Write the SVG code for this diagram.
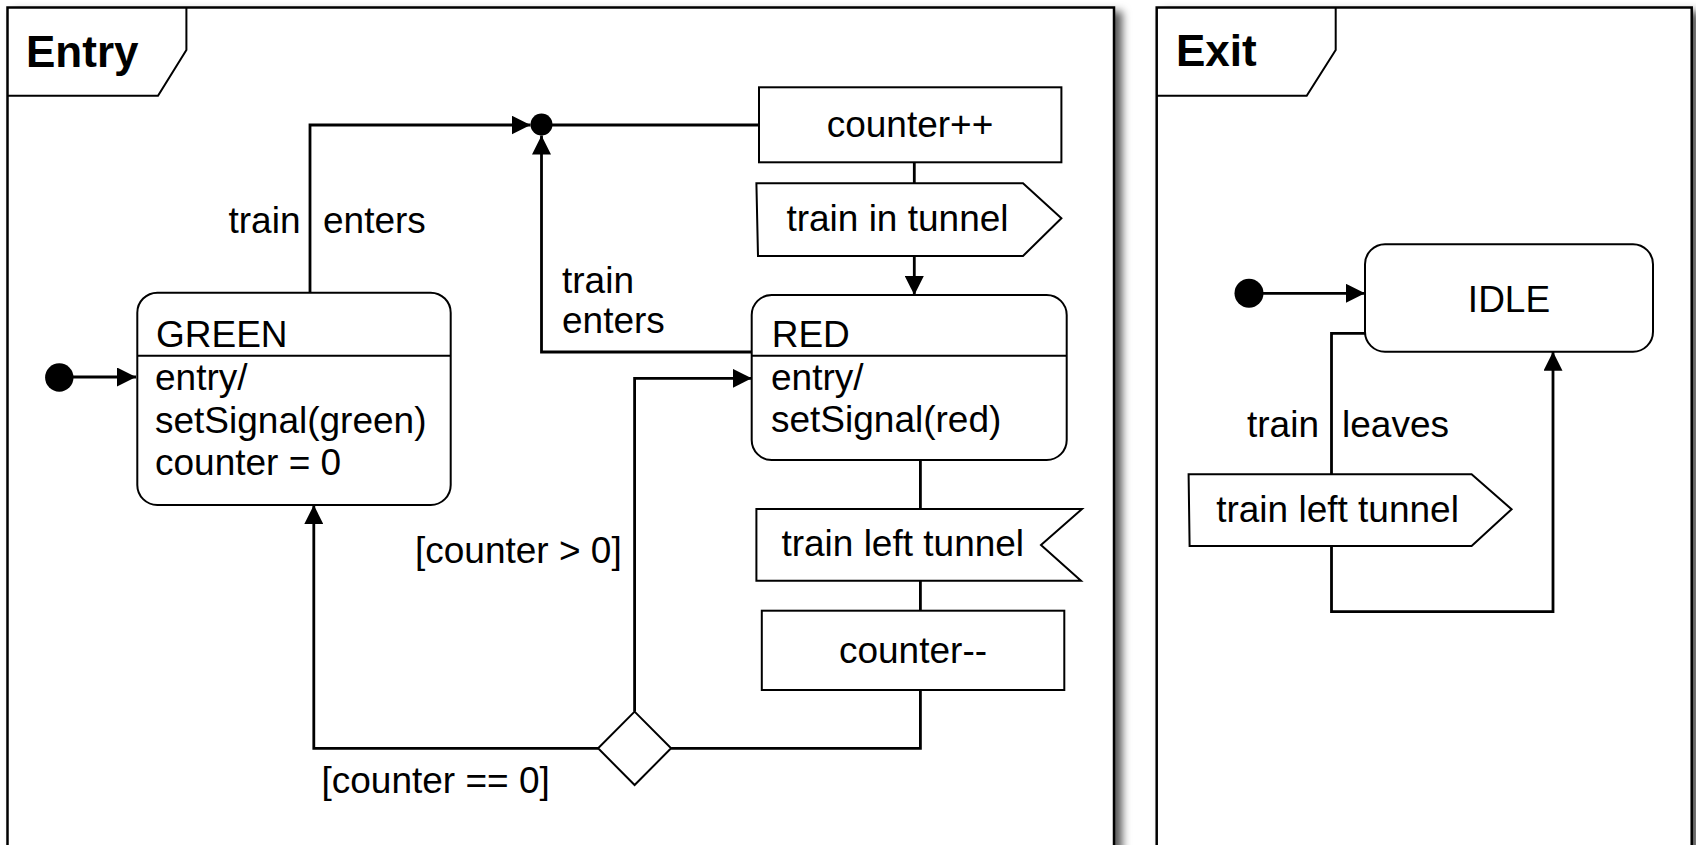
<svg xmlns="http://www.w3.org/2000/svg" width="1696" height="845" viewBox="0 0 1696 845">
  <defs>
    <filter id="frameShadow" x="-5%" y="-5%" width="115%" height="115%">
      <feDropShadow dx="7" dy="5" stdDeviation="4.5" flood-color="#000" flood-opacity="0.65"/>
    </filter>
    <marker id="arrow" markerUnits="userSpaceOnUse" viewBox="0 0 19 19" refX="19" refY="9.5" markerWidth="19" markerHeight="19" orient="auto">
      <path d="M0,0 L19,9.5 L0,19 Z" fill="#000"/>
    </marker>
  </defs>
  <style>
    .frame { fill: #fff; stroke: #000; stroke-width: 2.5; }
    .tab { fill: none; stroke: #000; stroke-width: 2; }
    .title { font-family: "Liberation Sans", Arial, sans-serif; font-weight: bold; font-size: 44px; fill: #000; }
    .box { fill: #fff; stroke: #000; stroke-width: 2; }
    .sep { stroke: #000; stroke-width: 2; }
    .dot { fill: #000; }
    .lbl { font-family: "Liberation Sans", Arial, sans-serif; font-size: 37px; fill: #000; }
    .mid { text-anchor: middle; }
    .end { text-anchor: end; }
    .edge { fill: none; stroke: #000; stroke-width: 2.8; }
  </style>
  <rect width="1696" height="845" fill="#fff"/>

  <!-- Entry region -->
  <g id="frame-entry">
    <rect class="frame" x="7.5" y="7.5" width="1106.5" height="870" filter="url(#frameShadow)"/>
    <path class="tab" d="M7.5,95.7 H158 L186.4,50 V7.5"/>
    <text class="title" x="26" y="66.5">Entry</text>
  </g>

  <!-- Exit region -->
  <g id="frame-exit">
    <rect class="frame" x="1156.7" y="7.5" width="535" height="870" filter="url(#frameShadow)"/>
    <path class="tab" d="M1156.7,95.7 H1306.7 L1335.7,50 V7.5"/>
    <text class="title" x="1176" y="65.7">Exit</text>
  </g>

  <!-- transitions -->
  <g id="connectors">
    <!-- Entry: initial to GREEN -->
    <line class="edge" x1="70" y1="377" x2="136" y2="377" marker-end="url(#arrow)"/>
    <!-- GREEN to junction -->
    <path class="edge" d="M310,292.7 V125 H530.5" marker-end="url(#arrow)"/>
    <!-- RED to junction -->
    <path class="edge" d="M751.7,352 H541.5 V135.5" marker-end="url(#arrow)"/>
    <!-- junction to increment action -->
    <line class="edge" x1="541.5" y1="125" x2="759" y2="125"/>
    <!-- increment action to signal -->
    <line class="edge" x1="914.3" y1="162.3" x2="914.3" y2="183.3"/>
    <!-- signal to RED -->
    <line class="edge" x1="914.3" y1="256" x2="914.3" y2="295" marker-end="url(#arrow)"/>
    <!-- RED, accept event, decrement action, choice -->
    <line class="edge" x1="920.4" y1="460" x2="920.4" y2="509"/>
    <line class="edge" x1="920.4" y1="580.7" x2="920.4" y2="610.7"/>
    <path class="edge" d="M920.4,690 V748.3 H671.1"/>
    <!-- choice to RED when counter is positive -->
    <path class="edge" d="M634.6,711.6 V378.3 H751.7" marker-end="url(#arrow)"/>
    <!-- choice to GREEN when counter is zero -->
    <path class="edge" d="M598.1,748.3 H313.8 V505" marker-end="url(#arrow)"/>

    <!-- Exit: initial to IDLE -->
    <line class="edge" x1="1262" y1="293.3" x2="1365" y2="293.3" marker-end="url(#arrow)"/>
    <!-- IDLE self loop through the signal -->
    <path class="edge" d="M1365,333.3 H1331.5 V474.3"/>
    <path class="edge" d="M1331.5,546 V611.7 H1553 V351.7" marker-end="url(#arrow)"/>

    <!-- transition labels -->
    <text class="lbl end" x="300.5" y="233.3">train</text>
    <text class="lbl" x="323" y="233.3">enters</text>
    <text class="lbl" x="562" y="293.3">train</text>
    <text class="lbl" x="562" y="333.3">enters</text>
    <text class="lbl" x="415" y="563.3">[counter &gt; 0]</text>
    <text class="lbl" x="321.5" y="793.3">[counter == 0]</text>
    <text class="lbl end" x="1319" y="436.7">train</text>
    <text class="lbl" x="1342" y="436.7">leaves</text>
  </g>

  <!-- Entry nodes -->
  <g id="initial-entry">
    <circle class="dot" cx="59.3" cy="377.5" r="14.2"/>
  </g>
  <g id="junction">
    <circle class="dot" cx="541.5" cy="124.5" r="11"/>
  </g>
  <g id="state-green">
    <rect class="box" x="137.3" y="292.7" width="313.4" height="212.3" rx="20" ry="20"/>
    <line class="sep" x1="137.3" y1="355.7" x2="450.7" y2="355.7"/>
    <text class="lbl" x="156" y="347.3">GREEN</text>
    <text class="lbl" x="155" y="390">entry/</text>
    <text class="lbl" x="155" y="432.7">setSignal(green)</text>
    <text class="lbl" x="155" y="475">counter = 0</text>
  </g>
  <g id="action-increment">
    <rect class="box" x="759" y="87.3" width="302.4" height="75"/>
    <text class="lbl mid" x="910" y="136.7">counter++</text>
  </g>
  <g id="signal-train-in-tunnel">
    <polygon class="box" points="756.4,183.3 1023,183.3 1061.4,218.3 1023,256 758,256"/>
    <text class="lbl" x="786.4" y="231">train in tunnel</text>
  </g>
  <g id="state-red">
    <rect class="box" x="751.7" y="295" width="315" height="165" rx="20" ry="20"/>
    <line class="sep" x1="751.7" y1="355.7" x2="1066.7" y2="355.7"/>
    <text class="lbl" x="771.7" y="346.7">RED</text>
    <text class="lbl" x="771" y="390">entry/</text>
    <text class="lbl" x="771" y="431.7">setSignal(red)</text>
  </g>
  <g id="event-train-left-tunnel">
    <polygon class="box" points="756.4,509 1082,509 1041,545 1081,580.7 756.4,580.7"/>
    <text class="lbl" x="781.4" y="556">train left tunnel</text>
  </g>
  <g id="action-decrement">
    <rect class="box" x="761.8" y="610.7" width="302.5" height="79.3"/>
    <text class="lbl mid" x="913" y="663.3">counter--</text>
  </g>
  <g id="choice">
    <polygon class="box" points="634.6,711.6 671.1,748.3 634.6,785 598.1,748.3"/>
  </g>

  <!-- Exit nodes -->
  <g id="initial-exit">
    <circle class="dot" cx="1249" cy="293.3" r="14.5"/>
  </g>
  <g id="state-idle">
    <rect class="box" x="1365" y="244.3" width="288" height="107.4" rx="20" ry="20"/>
    <text class="lbl mid" x="1509" y="311.7">IDLE</text>
  </g>
  <g id="signal-train-left-tunnel">
    <polygon class="box" points="1188.6,474.3 1471.6,474.3 1511.6,509.3 1471.6,546 1189.6,546"/>
    <text class="lbl" x="1216.2" y="521.7">train left tunnel</text>
  </g>
</svg>
